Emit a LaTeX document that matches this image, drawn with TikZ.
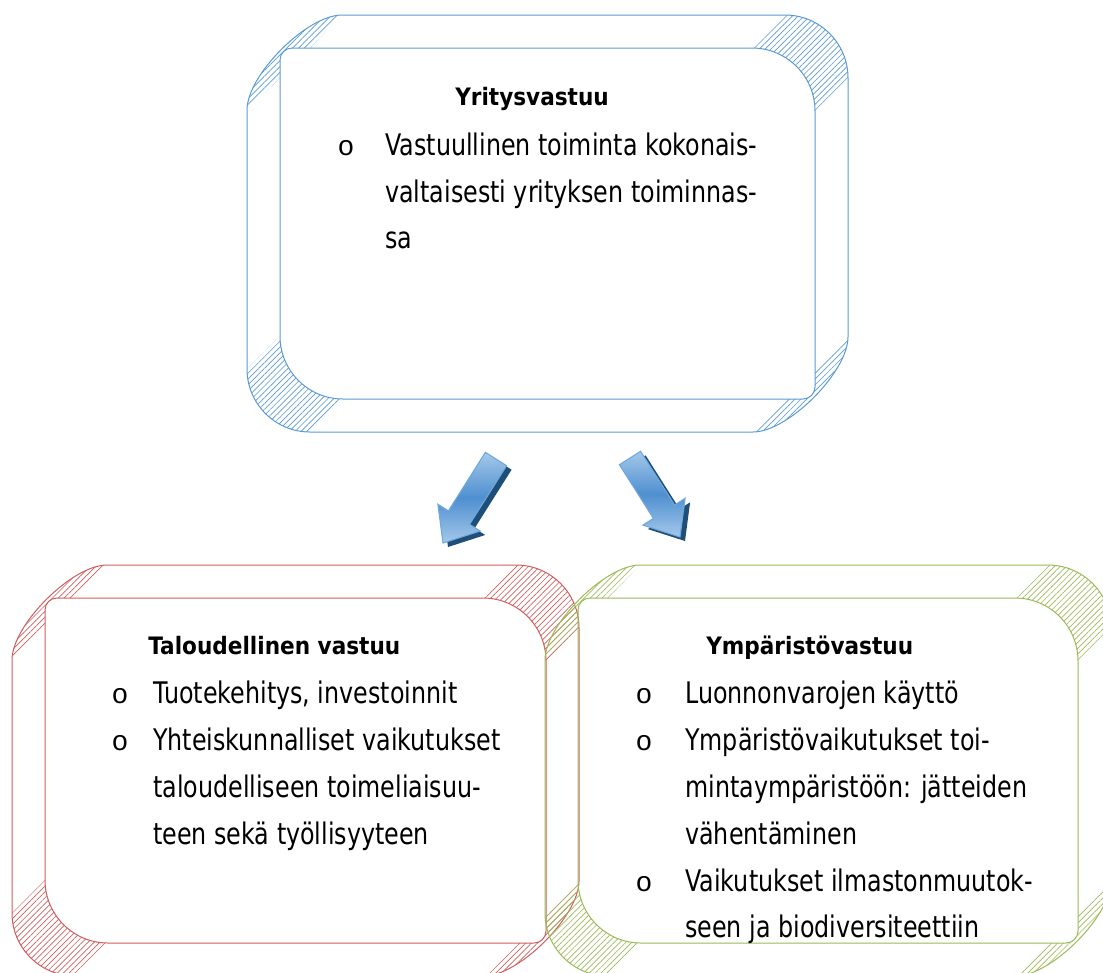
\documentclass[tikz,border=0pt]{standalone}
\usepackage{fontspec}
\setmainfont{DejaVu Sans}[FakeStretch=0.80, BoldFeatures={FakeStretch=0.90}]
\newfontfamily\bulletfont{Liberation Mono}
\usetikzlibrary{patterns.meta}
\definecolor{bframe}{HTML}{5B9BD5}
\definecolor{rframe}{HTML}{D05E5E}
\definecolor{gframe}{HTML}{9BBB59}
\definecolor{arrowlight}{HTML}{A4C8EA}
\definecolor{arrowmid}{HTML}{4F8FD0}
\definecolor{arrowedge}{HTML}{6FA8DC}
\definecolor{arrowshadow}{HTML}{1F4E79}
\tikzset{
  frameline/.style={draw=#1, line width=0.75pt},
  hatch/.style={pattern={Lines[angle=45,distance=3.1pt,line width=0.5pt]}, pattern color=#1},
  headtext/.style={font=\fontsize{18}{20}\selectfont\bfseries, anchor=base west, inner sep=0pt},
  bodytext/.style={font=\fontsize{22.3}{26}\selectfont, anchor=base west, inner sep=0pt},
  bullettext/.style={font=\bulletfont\fontsize{21}{22}\selectfont, anchor=base, inner sep=0pt},
  arrowbody/.style={draw=arrowedge, line width=0.8pt, top color=arrowlight, bottom color=arrowlight, middle color=arrowmid},
  arrowshade/.style={fill=arrowshadow},
}
% #1,#2 = top-left of outer frame (px), #3 = width, #4 = height, #5 = colour
\newcommand\bevelbox[5]{%
\begin{scope}[shift={(#1,#2)}]
  % hatched corners
  \path[hatch=#5] ({#3-63},0) .. controls ({#3-28.2},0) and (#3,28.2) .. (#3,63)
     -- ({#3-33},96) .. controls ({#3-33},61.2) and ({#3-61.2},33) .. ({#3-96},33) -- cycle;
  \path[hatch=#5] (63,#4) .. controls (28.2,#4) and (0,{#4-28.2}) .. (0,{#4-63})
     -- (33,{#4-96}) .. controls (33,{#4-61.2}) and (61.2,{#4-33}) .. (96,{#4-33}) -- cycle;
  \path[hatch=#5] (0,95) .. controls (0,60) and (60,0) .. (95,0) -- (63,33) -- (45,33)
     .. controls (38.4,33) and (33,38.4) .. (33,45) -- (33,63) -- cycle;
  \path[hatch=#5] (#3,{#4-95}) .. controls (#3,{#4-60}) and ({#3-60},#4) .. ({#3-95},#4)
     -- ({#3-63},{#4-33}) -- ({#3-45},{#4-33}) .. controls ({#3-38.4},{#4-33}) and ({#3-33},{#4-38.4}) .. ({#3-33},{#4-45})
     -- ({#3-33},{#4-63}) -- cycle;
  % outer outline
  \draw[frameline=#5] (95,0) -- ({#3-63},0) .. controls ({#3-28.2},0) and (#3,28.2) .. (#3,63)
     -- (#3,{#4-95}) .. controls (#3,{#4-60}) and ({#3-60},#4) .. ({#3-95},#4)
     -- (63,#4) .. controls (28.2,#4) and (0,{#4-28.2}) .. (0,{#4-63})
     -- (0,95) .. controls (0,60) and (60,0) .. (95,0) -- cycle;
  % inner outline
  \draw[frameline=#5] (45,33) -- ({#3-96},33) .. controls ({#3-61.2},33) and ({#3-33},61.2) .. ({#3-33},96)
     -- ({#3-33},{#4-45}) .. controls ({#3-33},{#4-38.4}) and ({#3-38.4},{#4-33}) .. ({#3-45},{#4-33})
     -- (96,{#4-33}) .. controls (61.2,{#4-33}) and (33,{#4-61.2}) .. (33,{#4-96})
     -- (33,45) .. controls (33,38.4) and (38.4,33) .. (45,33) -- cycle;
\end{scope}}
\begin{document}
\begin{tikzpicture}[x=0.75pt,y=-0.75pt]
\useasboundingbox (0,0) rectangle (1103,972);
\clip (0,0) rectangle (1103,972);
\fill[white] (0,0) rectangle (1103,972);

% frames
\bevelbox{12}{565}{567}{411}{rframe}
\bevelbox{545}{565}{566}{411}{gframe}
\bevelbox{247}{15}{601}{417}{bframe}

% arrows: shadows
\begin{scope}[shift={(5,4)}]
  \fill[arrowshade] (485.4,452.3) -- (506.6,465.7) -- (469.6,524.3) -- (480.2,531) -- (443,543)
     -- (437.9,504.2) -- (448.4,510.9) -- cycle;
  \fill[arrowshade] (640.6,451.3) -- (674.6,505) -- (685.1,498.3) -- (680,537) -- (642.9,525.1)
     -- (653.4,518.4) -- (619.4,464.7) -- cycle;
\end{scope}
% arrows
\path[arrowbody] (485.4,452.3) coordinate (la) -- (506.6,465.7) -- (469.6,524.3) -- (480.2,531) -- (443,543) coordinate (latip)
   -- (437.9,504.2) -- (448.4,510.9) -- cycle;
\path[arrowbody] (640.6,451.3) coordinate (ra) -- (674.6,505) -- (685.1,498.3) -- (680,537) coordinate (ratip) -- (642.9,525.1)
   -- (653.4,518.4) -- (619.4,464.7) -- cycle;

% top box text
\node[headtext] (yhead) at (455,105) {Yritysvastuu};
\node[bullettext] (yb1) at (346,155) {o};
\node[bodytext] (y1a) at (385,155) {Vastuullinen toiminta kokonais-};
\node[bodytext] (y1b) at (385,202) {valtaisesti yrityksen toiminnas-};
\node[bodytext] (y1c) at (385,248) {sa};

% left box text
\node[headtext] (thead) at (148,654) {Taloudellinen vastuu};
\node[bullettext] (tb1) at (120,703) {o};
\node[bodytext] (t1a) at (153,703) {Tuotekehitys, investoinnit};
\node[bullettext] (tb2) at (120,750) {o};
\node[bodytext] (t2a) at (153,750) {Yhteiskunnalliset vaikutukset};
\node[bodytext] (t2b) at (153,797) {taloudelliseen toimeliaisuu-};
\node[bodytext] (t2c) at (153,844) {teen sekä työllisyyteen};

% right box text
\node[headtext] (ghead) at (706,654) {Ympäristövastuu};
\node[bullettext] (gb1) at (644,703) {o};
\node[bodytext] (g1a) at (685,703) {Luonnonvarojen käyttö};
\node[bullettext] (gb2) at (644,750) {o};
\node[bodytext] (g2a) at (685,750) {Ympäristövaikutukset toi-};
\node[bodytext] (g2b) at (685,797) {mintaympäristöön: jätteiden};
\node[bodytext] (g2c) at (685,844) {vähentäminen};
\node[bullettext] (gb3) at (644,891) {o};
\node[bodytext] (g3a) at (685,891) {Vaikutukset ilmastonmuutok-};
\node[bodytext] (g3b) at (685,937) {seen ja biodiversiteettiin};
\end{tikzpicture}
\end{document}
